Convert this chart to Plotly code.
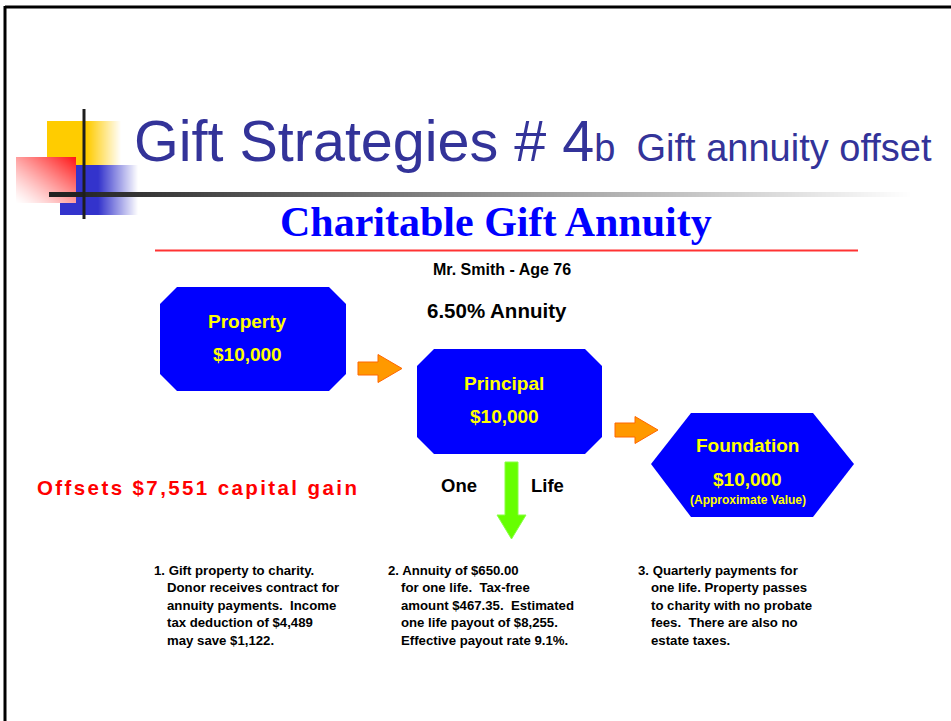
import numpy as np
import plotly.graph_objects as go

# ---------------- data (text content) ----------------
title_main = "Gift Strategies # 4"
title_sub = "b&nbsp; Gift annuity offset"
heading = "Charitable Gift Annuity"
client = "Mr. Smith - Age 76"
annuity_rate = "6.50% Annuity"
box_labels = ["Property", "Principal", "Foundation"]
box_amounts = ["$10,000", "$10,000", "$10,000"]
foundation_note = "(Approximate Value)"
life_labels = ["One", "Life"]
offset_text = "Offsets $7,551 capital gain"
notes = [
    ["1. Gift property to charity.", "Donor receives contract for",
     "annuity payments.  Income", "tax deduction of $4,489", "may save $1,122."],
    ["2. Annuity of $650.00", "for one life.  Tax-free",
     "amount $467.35.  Estimated", "one life payout of $8,255.",
     "Effective payout rate 9.1%."],
    ["3. Quarterly payments for", "one life. Property passes",
     "to charity with no probate", "fees.  There are also no", "estate taxes."],
]

# ---------------- layout geometry (pixel units) ----------------
W, H = 951, 721
FONT = "Liberation Sans"
BOX_BLUE = "#0000FF"
YELLOW = "#FFFF00"

fig = go.Figure()


def grad_row(x_start, x_solid_end, x_end, rgb):
    """One-row RGB gradient: solid colour then fade to white."""
    cols = []
    n = int(x_end - x_start)
    for i in range(n):
        x = x_start + i + 0.5
        if x <= x_solid_end:
            t = 1.0
        else:
            t = max(0.0, 1 - (x - x_solid_end) / (x_end - x_solid_end))
        cols.append([int(255 + (c - 255) * t) for c in rgb])
    return [cols]


# yellow square (fades right)
fig.add_trace(go.Image(z=grad_row(47, 87, 121, (255, 204, 0)), x0=47.5, dx=1,
                       y0=143, dy=44, colormodel="rgb", hoverinfo="skip"))
# blue square (fades right)
fig.add_trace(go.Image(z=grad_row(60, 98, 138, (51, 51, 204)), x0=60.5, dx=1,
                       y0=190, dy=50, colormodel="rgb", hoverinfo="skip"))
# red square (diagonal gradient)
rx0, rx1, ry0, ry1 = 16, 76, 157, 203
red = []
for j in range(ry1 - ry0):
    row = []
    v = (j + 0.5) / (ry1 - ry0)
    for i in range(rx1 - rx0):
        u = (i + 0.5) / (rx1 - rx0)
        t = (u + (1 - v)) / 2
        t = t ** 1.3
        row.append([255, int(255 * (1 - t) + 20 * t), int(255 * (1 - t) + 20 * t)])
    red.append(row)
fig.add_trace(go.Image(z=red, x0=rx0 + 0.5, dx=1, y0=ry0 + 0.5, dy=1,
                       colormodel="rgb", hoverinfo="skip"))
# horizontal gradient rule
rule = []
for i in range(49, 912):
    if i < 85:
        g = 34
    else:
        g = int(40 + (255 - 40) * min(1.0, (i - 85) / (910 - 85)))
    rule.append([g, g, g])
fig.add_trace(go.Image(z=[rule], x0=49.5, dx=1, y0=194.5, dy=5,
                       colormodel="rgb", hoverinfo="skip"))

shapes = []
# slide frame
shapes.append(dict(type="line", x0=5, x1=W, y0=7, y1=7, line=dict(color="black", width=3)))
shapes.append(dict(type="line", x0=5, x1=5, y0=6, y1=H, line=dict(color="black", width=3)))
# logo vertical bar
shapes.append(dict(type="line", x0=84, x1=84, y0=109, y1=219, line=dict(color="#1e1e1e", width=3)))
# red rule under heading
shapes.append(dict(type="line", x0=155, x1=858, y0=250.5, y1=250.5, line=dict(color="#FF3333", width=2)))


def octagon(x0, y0, x1, y1, c):
    return (f"M{x0 + c},{y0} L{x1 - c},{y0} L{x1},{y0 + c} L{x1},{y1 - c} "
            f"L{x1 - c},{y1} L{x0 + c},{y1} L{x0},{y1 - c} L{x0},{y0 + c} Z")


shapes.append(dict(type="path", path=octagon(160, 287, 346, 391, 17),
                   fillcolor=BOX_BLUE, line=dict(width=0)))
shapes.append(dict(type="path", path=octagon(417, 349, 602, 454, 17),
                   fillcolor=BOX_BLUE, line=dict(width=0)))
shapes.append(dict(type="path",
                   path="M691,413 L813,413 L854,464 L813,517 L691,517 L651,464 Z",
                   fillcolor=BOX_BLUE, line=dict(width=0)))


def right_arrow(x0, xh, xt, yc, body_h, head_h):
    b = body_h / 2
    h = head_h / 2
    return (f"M{x0},{yc - b} L{xh},{yc - b} L{xh},{yc - h} L{xt},{yc} "
            f"L{xh},{yc + h} L{xh},{yc + b} L{x0},{yc + b} Z")


shapes.append(dict(type="path", path=right_arrow(358, 378, 402, 368.5, 13, 28),
                   fillcolor="#FF9900", line=dict(color="#FF6600", width=1)))
shapes.append(dict(type="path", path=right_arrow(615, 635, 658, 430, 14, 27),
                   fillcolor="#FF9900", line=dict(color="#FF6600", width=1)))
# green down arrow
shapes.append(dict(type="path",
                   path="M505,462 L518,462 L518,515 L526,515 L511.5,539 L497,515 L505,515 Z",
                   fillcolor="#66FF00", line=dict(color="#88FF44", width=1)))

ann = []


def text(x, y, s, size, color="black", anchor="center", bold=True, family=FONT):
    ann.append(dict(x=x, y=y, xref="x", yref="y", text=(f"<b>{s}</b>" if bold else s),
                    showarrow=False, xanchor=anchor, yanchor="middle",
                    font=dict(family=family, size=size, color=color)))


# title
ann.append(dict(x=132, y=141, xref="x", yref="y", showarrow=False, xanchor="left",
                yanchor="middle",
                text=f"{title_main}<span style='font-size:38px'>{title_sub}</span>",
                font=dict(family=FONT, size=57.5, color="#333399")))
text(496, 222, heading, 42, color="#0000FF", family="Liberation Serif")
text(502, 269, client, 16)
text(497, 310, annuity_rate, 20.5)

# box texts
text(247, 321, box_labels[0], 19, YELLOW)
text(247, 354, box_amounts[0], 19, YELLOW)
text(504, 383, box_labels[1], 19, YELLOW)
text(504, 416, box_amounts[1], 19, YELLOW)
text(747, 445, box_labels[2], 19, YELLOW)
text(747, 479, box_amounts[2], 19, YELLOW)
text(748, 500, foundation_note, 12, YELLOW)

text(459, 485, life_labels[0], 18.5)
text(547, 485, life_labels[1], 18.5)

ann.append(dict(x=35, y=487, xref="x", yref="y", showarrow=False, xanchor="left",
                yanchor="middle",
                text=f"<b><span style='letter-spacing:2.4px'>{offset_text}</span></b>",
                font=dict(family=FONT, size=20.5, color="#FF0000")))

# notes
note_x = [152, 386, 636]
indent = 13
for k, lines in enumerate(notes):
    for j, line in enumerate(lines):
        x = note_x[k] + (0 if j == 0 else indent)
        text(x, 570 + j * 17.5, line, 13.2, anchor="left")

fig.update_layout(
    width=W, height=H, margin=dict(l=0, r=0, t=0, b=0),
    paper_bgcolor="white", plot_bgcolor="white",
    xaxis=dict(range=[0, W], visible=False, fixedrange=True),
    yaxis=dict(range=[H, 0], visible=False, fixedrange=True, scaleanchor="x", scaleratio=1),
    shapes=shapes, annotations=ann, showlegend=False,
)
fig.write_html("out.html", config={"displayModeBar": False},
               post_script="document.body.style.margin='0';document.body.style.overflow='hidden';")
